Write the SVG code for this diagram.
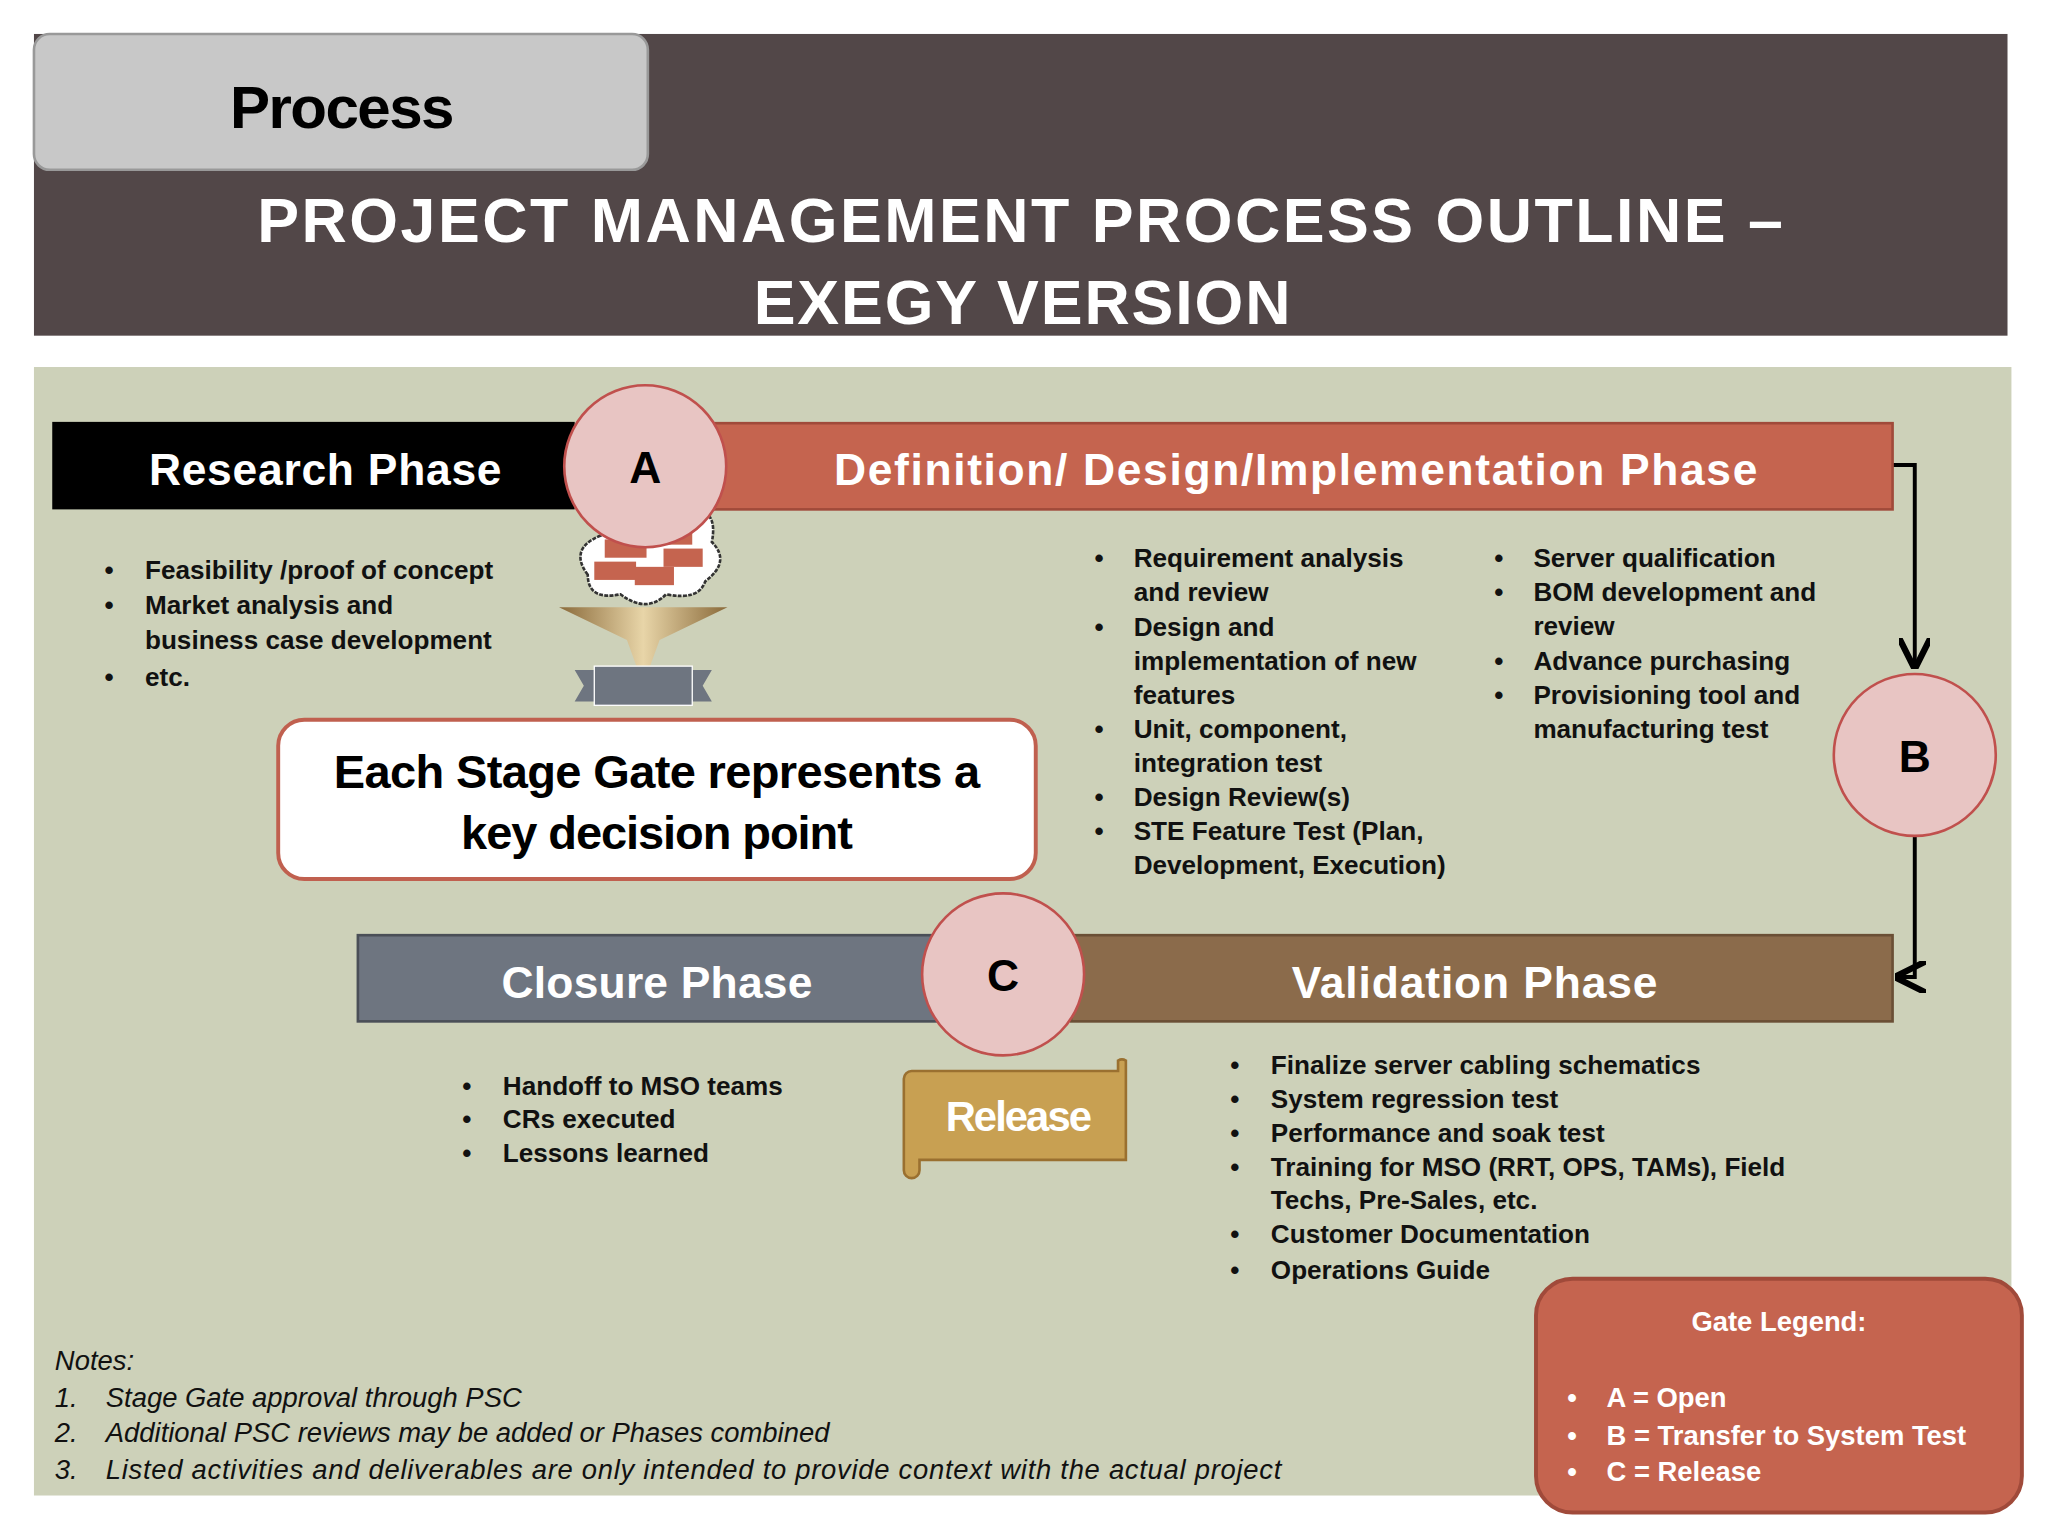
<svg xmlns="http://www.w3.org/2000/svg" width="2048" height="1536" viewBox="0 0 2048 1536">
<defs>
<style>
text{font-family:"Liberation Sans",Arial,sans-serif}
.ph{fill:#fff;font-size:34px;text-anchor:middle;font-weight:bold}
.gate{fill:#e8c5c3;stroke:#c0504d;stroke-width:2}
.gl{font-size:34px;text-anchor:middle;fill:#000;font-weight:bold}
.b{font-size:20px;fill:#111;font-weight:bold}
.n{font-size:21px;fill:#111;font-style:italic}
.lg{font-size:21px;fill:#fff;font-weight:bold}
</style>
<marker id="ah" viewBox="0 0 10 10" refX="9" refY="5" markerWidth="8" markerHeight="8" orient="auto"><path d="M0,0L10,5L0,10" fill="none" stroke="#000" stroke-width="2"/></marker>
<linearGradient id="fg" x1="0" x2="1"><stop offset="0" stop-color="#8a6a3a"/><stop offset="0.5" stop-color="#e8d5a8"/><stop offset="1" stop-color="#8a6a3a"/></linearGradient>
</defs>
<rect width="2048" height="1536" fill="#fff"/>
<g transform="scale(1.306122)">
<g id="header">
<rect x="26" y="26" width="1511" height="231" fill="#524748"/>
<rect x="26" y="26" width="470" height="104" rx="12" fill="#c8c8c8" stroke="#999" stroke-width="2"/>
<text x="262" y="98" font-size="46" text-anchor="middle" fill="#000" font-weight="bold" textLength="172">Process</text>
<text x="197" y="185" font-size="48" fill="#fff" font-weight="bold" textLength="1168" lengthAdjust="spacing">PROJECT MANAGEMENT PROCESS OUTLINE –</text>
<text x="577" y="248" font-size="48" fill="#fff" font-weight="bold" textLength="411" lengthAdjust="spacing">EXEGY VERSION</text>
</g>
<rect x="26" y="281" width="1514" height="864" fill="#cdd1b9"/>
<g id="connectors">
<path d="M1449,356H1466V510" fill="none" stroke="#000" stroke-width="3" marker-end="url(#ah)"/>
<path d="M1466,640V748H1453" fill="none" stroke="#000" stroke-width="3" marker-end="url(#ah)"/>
</g>
<g id="research"><rect x="40" y="323" width="400" height="67" fill="#000"/><text class="ph" x="249" y="371" textLength="270">Research Phase</text></g>
<g id="definition"><rect x="540" y="324" width="909" height="66" fill="#c5644f" stroke="#a04a3a" stroke-width="2"/><text class="ph" x="992" y="371" textLength="707">Definition/ Design/Implementation Phase</text></g>
<g id="closure"><rect x="274" y="716" width="446" height="66" fill="#6e7580" stroke="#4a4f57" stroke-width="2"/><text class="ph" x="503" y="764" textLength="238">Closure Phase</text></g>
<g id="validation"><rect x="820" y="716" width="629" height="66" fill="#8b6b4b" stroke="#6a4f35" stroke-width="2"/><text class="ph" x="1129" y="764" textLength="280">Validation Phase</text></g>
<g id="funnel">
<path d="M450,440 q-15,-20 10,-30 q5,-20 30,-15 q15,-20 40,-5 q20,0 15,25 q15,15 -5,30 q-5,15 -30,10 q-15,15 -35,0 q-25,5 -25,-15z" fill="#fff" stroke="#333" stroke-width="2" stroke-dasharray="3,1"/>
<rect x="500" y="403" width="30" height="14" fill="#c5644f"/><rect x="463" y="413" width="32" height="14" fill="#c5644f"/><rect x="508" y="420" width="30" height="14" fill="#c5644f"/><rect x="455" y="430" width="32" height="14" fill="#c5644f"/><rect x="486" y="434" width="30" height="14" fill="#c5644f"/>
<path d="M428,465 H557 L505,490 L497,512 H488 L480,490 Z" fill="url(#fg)"/>
<path d="M440,513 L455,513 L455,537 L440,537 L447,525Z M530,513 L545,513 L538,525 L545,537 L530,537Z" fill="#6e7580"/>
<rect x="455" y="510" width="75" height="30" fill="#6e7580" stroke="#fff" stroke-width="1"/>
</g>
<g id="gateA"><circle class="gate" cx="494" cy="357" r="62"/><text class="gl" x="494" y="370">A</text></g>
<g id="gateB"><circle class="gate" cx="1466" cy="578" r="62"/><text class="gl" x="1466" y="591">B</text></g>
<g id="gateC"><circle class="gate" cx="768" cy="746" r="62"/><text class="gl" x="768" y="759">C</text></g>
<g id="stagegate"><rect x="213" y="551" width="580" height="122" rx="20" fill="#fff" stroke="#c0604f" stroke-width="3"/>
<text x="503" y="603" font-size="36" text-anchor="middle" fill="#000" font-weight="bold" textLength="495">Each Stage Gate represents a</text>
<text x="503" y="650" font-size="36" text-anchor="middle" fill="#000" font-weight="bold" textLength="300">key decision point</text></g>
<g id="release">
<path d="M698,820 H856 V812 a6,6 0 0 1 6,0 V888 H704 V896 a6,6 0 0 1 -12,0 V826 a6,6 0 0 1 6,-6z" fill="#c8a052" stroke="#9a7030" stroke-width="2"/>
<text x="780" y="866" font-size="32" text-anchor="middle" fill="#fff" font-weight="bold" textLength="112">Release</text></g>
<g id="research-list" class="b">
<text x="80" y="443">•</text><text x="111" y="443">Feasibility /proof of concept</text>
<text x="80" y="470">•</text><text x="111" y="470">Market analysis and</text>
<text x="111" y="497">business case development</text>
<text x="80" y="525">•</text><text x="111" y="525">etc.</text>
</g>
<g id="def-list" class="b">
<text x="838" y="434">•</text><text x="868" y="434">Requirement analysis</text><text x="868" y="460">and review</text>
<text x="838" y="487">•</text><text x="868" y="487">Design and</text><text x="868" y="513">implementation of new</text><text x="868" y="539">features</text>
<text x="838" y="565">•</text><text x="868" y="565">Unit, component,</text><text x="868" y="591">integration test</text>
<text x="838" y="617">•</text><text x="868" y="617">Design Review(s)</text>
<text x="838" y="643">•</text><text x="868" y="643">STE Feature Test (Plan,</text><text x="868" y="669">Development, Execution)</text>
<text x="1144" y="434">•</text><text x="1174" y="434">Server qualification</text>
<text x="1144" y="460">•</text><text x="1174" y="460">BOM development and</text><text x="1174" y="486">review</text>
<text x="1144" y="513">•</text><text x="1174" y="513">Advance purchasing</text>
<text x="1144" y="539">•</text><text x="1174" y="539">Provisioning tool and</text><text x="1174" y="565">manufacturing test</text>
</g>
<g id="closure-list" class="b">
<text x="354" y="838">•</text><text x="385" y="838">Handoff to MSO teams</text>
<text x="354" y="864">•</text><text x="385" y="864">CRs executed</text>
<text x="354" y="890">•</text><text x="385" y="890">Lessons learned</text>
</g>
<g id="val-list" class="b">
<text x="942" y="822">•</text><text x="973" y="822">Finalize server cabling schematics</text>
<text x="942" y="848">•</text><text x="973" y="848">System regression test</text>
<text x="942" y="874">•</text><text x="973" y="874">Performance and soak test</text>
<text x="942" y="900">•</text><text x="973" y="900">Training for MSO (RRT, OPS, TAMs), Field</text><text x="973" y="926">Techs, Pre-Sales, etc.</text>
<text x="942" y="952">•</text><text x="973" y="952">Customer Documentation</text>
<text x="942" y="979">•</text><text x="973" y="979">Operations Guide</text>
</g>
<g id="notes" class="n">
<text x="42" y="1049">Notes:</text>
<text x="42" y="1077">1.</text><text x="81" y="1077">Stage Gate approval through PSC</text>
<text x="42" y="1104">2.</text><text x="81" y="1104">Additional PSC reviews may be added or Phases combined</text>
<text x="42" y="1132">3.</text><text x="81" y="1132" textLength="900">Listed activities and deliverables are only intended to provide context with the actual project</text>
</g>
<g id="legend">
<rect x="1176" y="979" width="372" height="179" rx="28" fill="#c5644f" stroke="#a04a3a" stroke-width="3"/>
<text class="lg" x="1362" y="1019" text-anchor="middle">Gate Legend:</text>
<text class="lg" x="1200" y="1077">•</text><text class="lg" x="1230" y="1077">A = Open</text>
<text class="lg" x="1200" y="1106">•</text><text class="lg" x="1230" y="1106">B = Transfer to System Test</text>
<text class="lg" x="1200" y="1134">•</text><text class="lg" x="1230" y="1134">C = Release</text>
</g>
</g>
</svg>
